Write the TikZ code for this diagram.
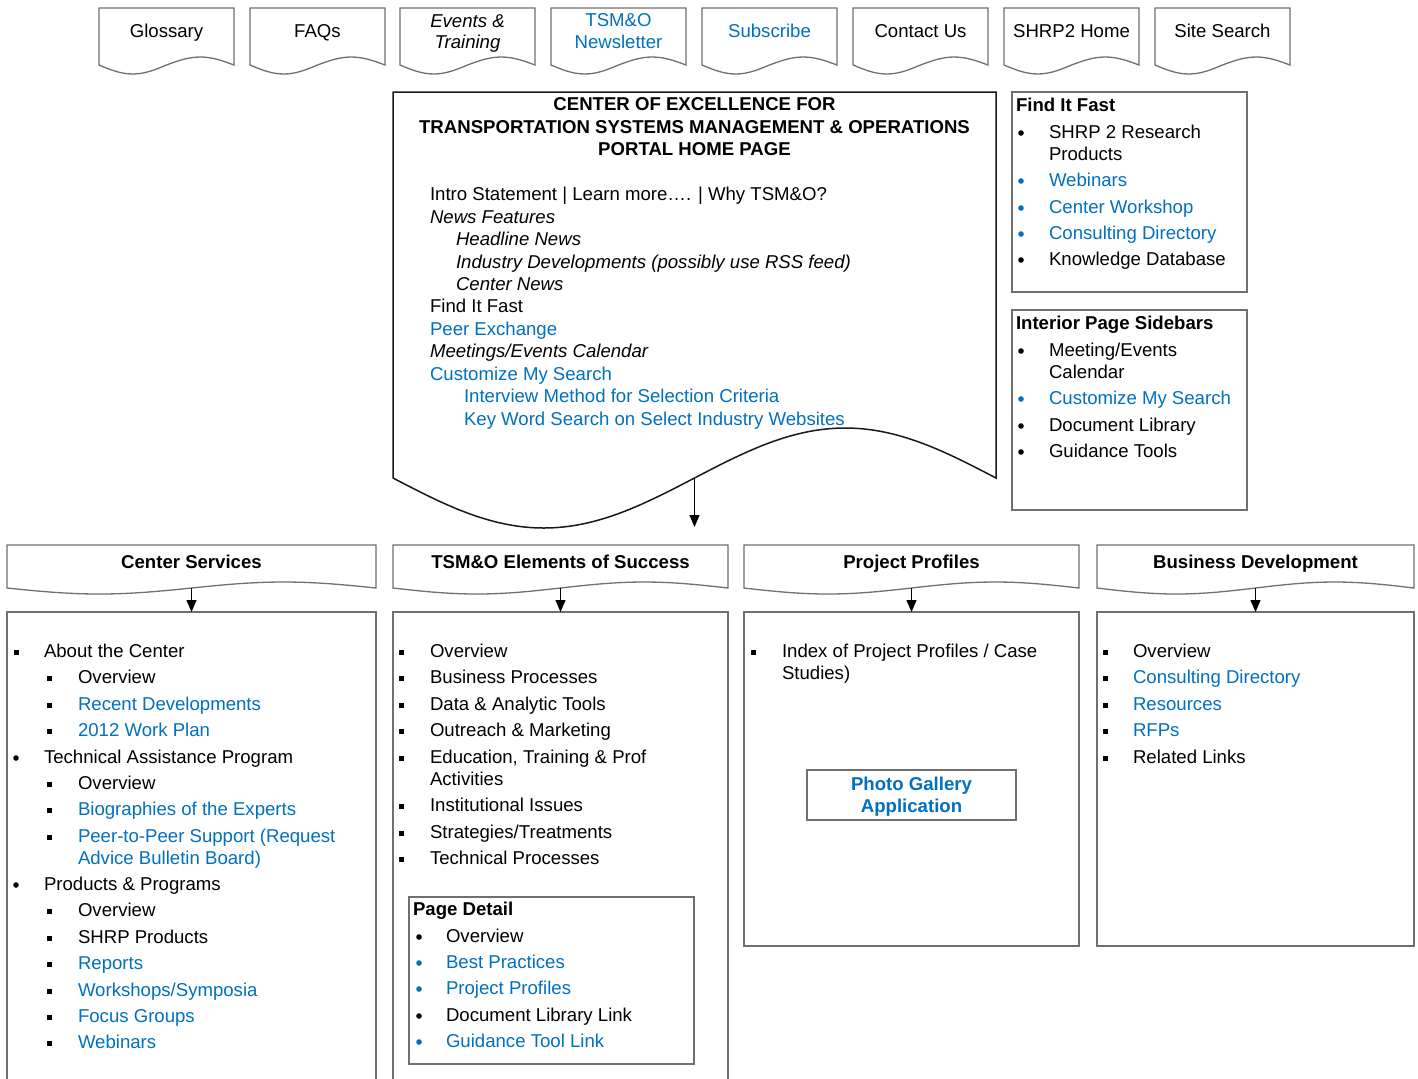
\documentclass[tikz,border=0pt]{standalone}
\usepackage{fontspec}
\setmainfont{Liberation Sans}
\usetikzlibrary{arrows.meta}

\definecolor{linkblue}{RGB}{0,112,192}
\definecolor{edgegray}{RGB}{112,112,112}
\definecolor{docedge}{RGB}{25,25,25}

\newcommand\bodyfont{\fontsize{9.3pt}{11pt}\selectfont}

% list bullets: square, round, round blue, none
\newcommand\sqb[2]{\fill (#1,#2+1) ++(-1.25pt,-1.25pt) rectangle ++(2.5pt,2.5pt);}
\newcommand\rdb[2]{\fill (#1,#2+1) circle (1.4pt);}
\newcommand\rdbb[2]{\fill[linkblue] (#1,#2+1) circle (1.4pt);}
\newcommand\nob[2]{}

\tikzset{
  txt/.style={anchor=base west, inner sep=0pt, outer sep=0pt, font=\bodyfont},
  ctxt/.style={txt, anchor=base},
  heading/.style={txt, font=\bodyfont\bfseries},
  tabline/.style={draw=edgegray, line width=0.65pt, fill=white},
  docline/.style={draw=docedge, line width=0.75pt, fill=white},
  panel/.style={draw=edgegray, line width=0.65pt, anchor=north west,
    inner sep=0pt, outer sep=0pt},
  arr/.style={draw=black, line width=0.5pt, -{Triangle[length=6pt,width=5pt]}}
}

\begin{document}
\begin{tikzpicture}[x=0.5pt,y=-0.5pt]
\useasboundingbox (0,0) rectangle (1418,1078);
\clip (0,0) rectangle (1418,1078);
\fill[white] (0,0) rectangle (1418,1078);

% ---------- navigation tabs ----------
\foreach \x [count=\i] in {99,250,400,551,702,853,1004,1155} {
  \draw[tabline] (\x,8) -- (\x,65) sin ++(33.75,9) cos ++(33.75,-9)
    sin ++(33.75,-8) cos ++(33.75,8) -- (\x+135,8) -- cycle;
}
\foreach \cx/\col/\t [count=\i] in {166.5/black/{Glossary}, 317.5/black/{FAQs},
    769.5/linkblue/{Subscribe}, 920.5/black/{Contact Us},
    1071.5/black/{SHRP2 Home}, 1222.5/black/{Site Search}} {
  \node[ctxt, text=\col] (tab\i) at (\cx,37.5) {\t};
}
\node[ctxt, font=\bodyfont\itshape] (evA) at (467.5,27.5) {Events \&};
\node[ctxt, font=\bodyfont\itshape] (evB) at (467.5,48.5) {Training};
\node[ctxt, text=linkblue] (nlA) at (618.5,26.5) {TSM\&O};
\node[ctxt, text=linkblue] (nlB) at (618.5,48.5) {Newsletter};

% ---------- portal home page document ----------
\draw[docline] (393,92) -- (393,478) sin (543.75,528) cos (694.5,478)
  sin (845.25,428) cos (996,478) -- (996,92) -- cycle;
\node[ctxt, font=\bodyfont\bfseries] (ttlA) at (694.5,110.5) {CENTER OF EXCELLENCE FOR};
\node[ctxt, font=\bodyfont\bfseries] (ttlB) at (694.5,133) {TRANSPORTATION SYSTEMS MANAGEMENT \& OPERATIONS};
\node[ctxt, font=\bodyfont\bfseries] (ttlC) at (694.5,155.5) {PORTAL HOME PAGE};
\foreach \tx/\cy/\col/\f/\t [count=\i] in {
    430/194/black/\upshape/{Intro Statement | Learn more…. | Why TSM\&O?},
    430/216.5/black/\itshape/{News Features},
    456/239/black/\itshape/{Headline News},
    456/261.5/black/\itshape/{Industry Developments (possibly use RSS feed)},
    456/284/black/\itshape/{Center News},
    430/306/black/\upshape/{Find It Fast},
    430/329/linkblue/\upshape/{Peer Exchange},
    430/351/black/\itshape/{Meetings/Events Calendar},
    430/374/linkblue/\upshape/{Customize My Search},
    464/396/linkblue/\upshape/{Interview Method for Selection Criteria},
    464/418.5/linkblue/\upshape/{Key Word Search on Select Industry Websites}} {
  \node[txt, text=\col, font=\bodyfont\f] (doc\i) at (\tx,\cy+6.5) {\t};
}
\coordinate (docmid) at (694.5,478);
\coordinate (docend) at (694.5,527);
\draw[arr] (docmid) -- (docend);

% ---------- side panels ----------
\node[panel, minimum width=117.5pt, minimum height=100pt] (fif) at (1012,92) {};
\node[heading] (fifT) at (1016,111.5) {Find It Fast};
\node[panel, minimum width=117.5pt, minimum height=100pt] (ips) at (1012,310) {};
\node[heading] (ipsT) at (1016,329.5) {Interior Page Sidebars};
\foreach \bx/\tx/\cy/\bul/\col/\t [count=\i] in {
    1021/1049/132/\rdb/black/{SHRP 2 Research},
    1021/1049/154/\nob/black/{Products},
    1021/1049/180/\rdbb/linkblue/{Webinars},
    1021/1049/207/\rdbb/linkblue/{Center Workshop},
    1021/1049/233/\rdbb/linkblue/{Consulting Directory},
    1021/1049/259/\rdb/black/{Knowledge Database},
    1021/1049/350/\rdb/black/{Meeting/Events},
    1021/1049/372/\nob/black/{Calendar},
    1021/1049/398/\rdbb/linkblue/{Customize My Search},
    1021/1049/425/\rdb/black/{Document Library},
    1021/1049/451/\rdb/black/{Guidance Tools}} {
  \bul{\bx}{\cy}
  \node[txt, text=\col] (side\i) at (\tx,\cy+6.5) {\t};
}

% ---------- section headers and bodies ----------
\foreach \xa/\xb/\t [count=\i] in {7/376/{Center Services},
    393/728/{TSM\&O Elements of Success}, 744/1079/{Project Profiles},
    1097/1414/{Business Development}} {
  \draw[tabline] (\xa,545) -- (\xa,588) sin ++({(\xb-\xa)/4},6) cos ++({(\xb-\xa)/4},-6)
    sin ++({(\xb-\xa)/4},-6) cos ++({(\xb-\xa)/4},6) -- (\xb,545) -- cycle;
  \coordinate (hm\i) at ({(\xa+\xb)/2},588);
  \node[ctxt, font=\bodyfont\bfseries] (hd\i) at ({(\xa+\xb)/2},568.5) {\t};
}
\node[panel, minimum width=184.5pt, minimum height=250pt] (body1) at (7,612) {};
\node[panel, minimum width=167.5pt, minimum height=250pt] (body2) at (393,612) {};
\node[panel, minimum width=167.5pt, minimum height=167pt] (body3) at (744,612) {};
\node[panel, minimum width=158.5pt, minimum height=167pt] (body4) at (1097,612) {};
\foreach \i in {1,2,3,4} { \draw[arr] (hm\i) -- (body\i.north); }

% Center Services list
\foreach \bx/\tx/\cy/\bul/\col/\t [count=\i] in {
    16/44/651/\sqb/black/{About the Center},
    49/78/677/\sqb/black/{Overview},
    49/78/704/\sqb/linkblue/{Recent Developments},
    49/78/730/\sqb/linkblue/{2012 Work Plan},
    16/44/757/\rdb/black/{Technical Assistance Program},
    49/78/783/\sqb/black/{Overview},
    49/78/809/\sqb/linkblue/{Biographies of the Experts},
    49/78/836/\sqb/linkblue/{Peer-to-Peer Support (Request},
    49/78/858/\nob/linkblue/{Advice Bulletin Board)},
    16/44/884/\rdb/black/{Products \& Programs},
    49/78/910/\sqb/black/{Overview},
    49/78/937/\sqb/black/{SHRP Products},
    49/78/963/\sqb/linkblue/{Reports},
    49/78/990/\sqb/linkblue/{Workshops/Symposia},
    49/78/1016/\sqb/linkblue/{Focus Groups},
    49/78/1042/\sqb/linkblue/{Webinars}} {
  \bul{\bx}{\cy}
  \node[txt, text=\col] (cs\i) at (\tx,\cy+6.5) {\t};
}

% Elements of Success list
\foreach \bx/\tx/\cy/\bul/\col/\t [count=\i] in {
    401/430/651/\sqb/black/{Overview},
    401/430/677/\sqb/black/{Business Processes},
    401/430/704/\sqb/black/{Data \& Analytic Tools},
    401/430/730/\sqb/black/{Outreach \& Marketing},
    401/430/757/\sqb/black/{Education, Training \& Prof},
    401/430/779/\nob/black/{Activities},
    401/430/805/\sqb/black/{Institutional Issues},
    401/430/832/\sqb/black/{Strategies/Treatments},
    401/430/858/\sqb/black/{Technical Processes}} {
  \bul{\bx}{\cy}
  \node[txt, text=\col] (es\i) at (\tx,\cy+6.5) {\t};
}
\node[panel, minimum width=142.5pt, minimum height=83.5pt] (pd) at (409,897) {};
\node[heading] (pdT) at (413,915.5) {Page Detail};
\foreach \bx/\tx/\cy/\bul/\col/\t [count=\i] in {
    419/446/936/\rdb/black/{Overview},
    419/446/962/\rdbb/linkblue/{Best Practices},
    419/446/988/\rdbb/linkblue/{Project Profiles},
    419/446/1015/\rdb/black/{Document Library Link},
    419/446/1041/\rdbb/linkblue/{Guidance Tool Link}} {
  \bul{\bx}{\cy}
  \node[txt, text=\col] (pd\i) at (\tx,\cy+6.5) {\t};
}

% Project Profiles
\sqb{753}{651}
\node[txt] (pp1) at (782,657.5) {Index of Project Profiles / Case};
\node[txt] (pp2) at (782,679.5) {Studies)};
\node[panel, minimum width=104.5pt, minimum height=25pt] (photo) at (807,770) {};
\node[ctxt, font=\bodyfont\bfseries, text=linkblue] (phA) at (911.5,790.5) {Photo Gallery};
\node[ctxt, font=\bodyfont\bfseries, text=linkblue] (phB) at (911.5,812.5) {Application};

% Business Development list
\foreach \bx/\tx/\cy/\bul/\col/\t [count=\i] in {
    1105/1133/651/\sqb/black/{Overview},
    1105/1133/677/\sqb/linkblue/{Consulting Directory},
    1105/1133/704/\sqb/linkblue/{Resources},
    1105/1133/730/\sqb/linkblue/{RFPs},
    1105/1133/757/\sqb/black/{Related Links}} {
  \bul{\bx}{\cy}
  \node[txt, text=\col] (bd\i) at (\tx,\cy+6.5) {\t};
}
\end{tikzpicture}
\end{document}
